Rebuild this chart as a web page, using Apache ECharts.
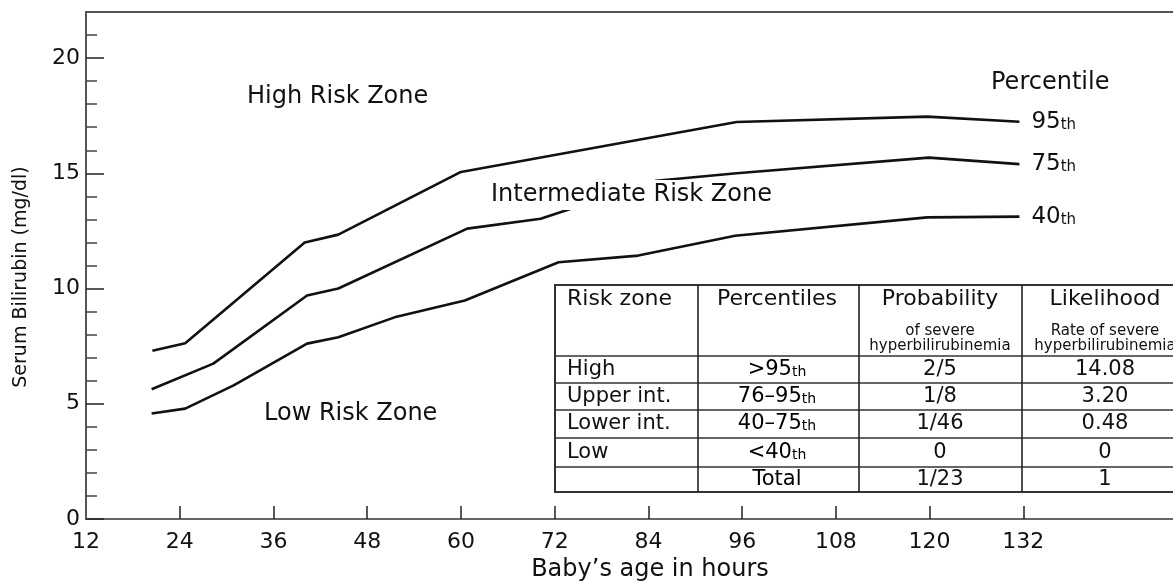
<!DOCTYPE html>
<html>
<head>
<meta charset="utf-8">
<title>Bilirubin risk zones</title>
<script src="https://cdn.jsdelivr.net/npm/echarts@6.0.0/dist/echarts.min.js"></script>
<style>
    html, body { margin: 0; padding: 0; background: #fff; }
    #nomogram { width: 1173px; height: 581px; }
</style>
</head>
<body>
<div id="nomogram"></div>
<script>
var FONT = 'DejaVu Sans';
var INK = '#111';

// percentile curves (age in hours, mg/dl)
var p95Hours = [20.5, 24.7, 40.0, 44.3, 60.0, 95.3, 119.7, 131.5];
var p95Values = [7.30, 7.63, 12.0, 12.34, 15.06, 17.23, 17.46, 17.24];

var p75Hours = [20.4, 28.3, 40.3, 44.3, 60.8, 70.2, 85.0, 95.3, 119.9, 131.5];
var p75Values = [5.63, 6.74, 9.70, 10.0, 12.6, 13.03, 14.68, 15.0, 15.68, 15.4];

var p40Hours = [20.4, 24.7, 30.9, 40.3, 44.3, 51.5, 60.5, 72.5, 82.7, 95.1, 119.7, 131.5];
var p40Values = [4.58, 4.79, 5.8, 7.61, 7.89, 8.75, 9.48, 11.14, 11.43, 12.29, 13.09, 13.12];

var percentileNames = ['95', '75', '40'];

// axis ticks
var xTickLabels = [12, 24, 36, 48, 60, 72, 84, 96, 108, 120, 132];
var xTicks = [24, 36, 48, 60, 72, 84, 96, 108, 120, 132];
var yTickLabels = [0, 5, 10, 15, 20];
var yMinorTicks = [1, 2, 3, 4, 6, 7, 8, 9, 11, 12, 13, 14, 16, 17, 18, 19, 21];

// table
var tableHeader = ['Risk zone', 'Percentiles', 'Probability', 'Likelihood'];
var probabilityNote = ['of severe', 'hyperbilirubinemia'];
var likelihoodNote = ['Rate of severe', 'hyperbilirubinemia'];
var riskZones = ['High', 'Upper int.', 'Lower int.', 'Low', ''];
var percentileRanges = ['>95', '76–95', '40–75', '<40', 'Total'];
var probabilities = ['2/5', '1/8', '1/46', '0', '1/23'];
var likelihoods = ['14.08', '3.20', '0.48', '0', '1'];

setNomogram();

/**
 * 合并小时和数值
 */
function pairUp(hours, values) {
    var out = [];
    for (var i = 0; i < hours.length; i++) {
        out.push([hours[i], values[i]]);
    }
    return out;
}

/**
 * "th" 小字样式
 */
function suffixRich(bigSize, smallSize) {
    return {
        n: {fontFamily: FONT, fontSize: bigSize, color: INK, verticalAlign: 'bottom'},
        t: {fontFamily: FONT, fontSize: smallSize, color: INK, verticalAlign: 'bottom', padding: [0, 0, 1, 0]}
    };
}

function plainText(x, y, text, size, align) {
    return {
        type: 'text',
        z: 100,
        style: {
            x: x, y: y, text: text,
            fontFamily: FONT, fontSize: size, fill: INK,
            align: align || 'left', verticalAlign: 'middle'
        }
    };
}

/**
 * 表格
 */
function buildTable() {
    var cols = [555, 698, 859, 1022, 1200];
    var rows = [285, 356, 383, 410, 438, 467, 492];
    var els = [];
    els.push({
        type: 'rect', z: 99,
        shape: {x: cols[0], y: rows[0], width: cols[4] - cols[0], height: rows[6] - rows[0]},
        style: {fill: '#fff', stroke: '#333', lineWidth: 2}
    });
    for (var r = 1; r < rows.length - 1; r++) {
        els.push({
            type: 'line', z: 100,
            shape: {x1: cols[0], y1: rows[r], x2: cols[4], y2: rows[r]},
            style: {stroke: '#333', lineWidth: 1.6}
        });
    }
    for (var c = 1; c < cols.length - 1; c++) {
        els.push({
            type: 'line', z: 100,
            shape: {x1: cols[c], y1: rows[0], x2: cols[c], y2: rows[6]},
            style: {stroke: '#222', lineWidth: 1.6}
        });
    }
    var centers = [0, 777, 940, 1105];
    els.push(plainText(567, 299, tableHeader[0], 22));
    els.push(plainText(centers[1], 299, tableHeader[1], 22, 'center'));
    els.push(plainText(centers[2], 299, tableHeader[2], 22, 'center'));
    els.push(plainText(centers[3], 299, tableHeader[3], 22, 'center'));
    els.push(plainText(centers[2], 331, probabilityNote[0], 15, 'center'));
    els.push(plainText(centers[2], 346, probabilityNote[1], 15, 'center'));
    els.push(plainText(centers[3], 331, likelihoodNote[0], 15, 'center'));
    els.push(plainText(centers[3], 346, likelihoodNote[1], 15, 'center'));
    for (var i = 0; i < riskZones.length; i++) {
        var cy = (rows[i + 1] + rows[i + 2]) / 2;
        els.push(plainText(567, cy, riskZones[i], 21));
        var pr = percentileRanges[i] === 'Total' ? '{n|Total}' : '{n|' + percentileRanges[i] + '}{t|th}';
        els.push({
            type: 'text', z: 100,
            style: {
                x: centers[1], y: cy, text: pr, align: 'center', verticalAlign: 'middle',
                rich: suffixRich(21, 14)
            }
        });
        els.push(plainText(centers[2], cy, probabilities[i], 21, 'center'));
        els.push(plainText(centers[3], cy, likelihoods[i], 21, 'center'));
    }
    return els;
}

/**
 * 渲染曲线
 */
function setNomogram() {
    var myChart = echarts.init(document.getElementById('nomogram'));
    var curves = [pairUp(p95Hours, p95Values), pairUp(p75Hours, p75Values), pairUp(p40Hours, p40Values)];

    var zoneLabels = [
        plainText(247, 97, 'High Risk Zone', 24),
        plainText(264, 414, 'Low Risk Zone', 24),
        plainText(991, 83, 'Percentile', 24),
        {
            type: 'text', z: 100,
            style: {
                x: 489, y: 195, text: 'Intermediate Risk Zone',
                fontFamily: FONT, fontSize: 24, fill: INK,
                align: 'left', verticalAlign: 'middle',
                backgroundColor: '#fff', padding: [3, 2, 3, 2]
            }
        },
        plainText(650, 570, 'Baby\u2019s age in hours', 24, 'center'),
        {
            type: 'text', z: 100, x: 21, y: 277, rotation: Math.PI / 2,
            style: {
                x: 0, y: 0, text: 'Serum Bilirubin (mg/dl)',
                fontFamily: FONT, fontSize: 19, fill: INK,
                align: 'center', verticalAlign: 'middle'
            }
        }
    ];

    var option = {
        animation: false,
        backgroundColor: '#fff',
        grid: {
            left: 86,
            top: 12,
            width: 1117,
            height: 507,
            outerBoundsMode: 'none',
            containLabel: false,
            show: true,
            borderColor: '#555',
            borderWidth: 2
        },
        xAxis: {
            type: 'value',
            min: 12,
            max: 155,
            interval: 12,
            splitLine: {show: false},
            axisLine: {lineStyle: {color: '#666', width: 2}},
            axisTick: {customValues: xTicks, inside: true, length: 13, lineStyle: {color: '#222', width: 1.5}},
            axisLabel: {customValues: xTickLabels, margin: 12, color: INK, fontFamily: FONT, fontSize: 22}
        },
        yAxis: [
            {
                type: 'value',
                min: 0,
                max: 22,
                splitLine: {show: false},
                axisLine: {show: true, lineStyle: {color: '#555', width: 2}},
                axisTick: {customValues: yTickLabels, inside: true, length: 18, lineStyle: {color: '#222', width: 1.5}},
                axisLabel: {customValues: yTickLabels, margin: 6, color: INK, fontFamily: FONT, fontSize: 22}
            },
            {
                type: 'value',
                position: 'left',
                min: 0,
                max: 22,
                splitLine: {show: false},
                axisLine: {show: false},
                axisTick: {customValues: yMinorTicks, inside: true, length: 11, lineStyle: {color: '#444', width: 1.5}},
                axisLabel: {show: false}
            }
        ],
        graphic: zoneLabels.concat(buildTable()),
        series: function () {
            var serie = [];
            for (var i = 0; i < curves.length; i++) {
                serie.push({
                    name: percentileNames[i] + 'th',
                    type: 'line',
                    data: curves[i],
                    symbol: 'none',
                    lineStyle: {color: '#111', width: 2.6},
                    endLabel: {
                        show: true,
                        distance: 12,
                        formatter: '{n|' + percentileNames[i] + '}{t|th}',
                        rich: suffixRich(23, 15)
                    }
                });
            }
            return serie;
        }()
    };
    myChart.setOption(option);
}
</script>
</body>
</html>
